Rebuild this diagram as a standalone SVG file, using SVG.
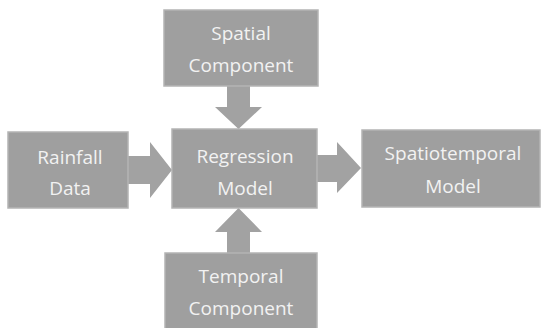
<svg xmlns="http://www.w3.org/2000/svg" width="542" height="328" viewBox="0 0 542 328">
<style>
.box{fill:#9f9f9f;stroke:#b4b4b4;stroke-width:1.5}
.arr{fill:#a2a2a2}
text{font-family:"Open Sans","Noto Sans",sans-serif;font-size:19px;fill:#f2f2f2;text-anchor:middle}
</style>
<rect width="542" height="328" fill="#ffffff"/>
<g id="connectors">
<polygon class="arr" points="227,86 250,86 250,107 262,107 238.5,129 215,107 227,107"/>
<polygon class="arr" points="128,156 150,156 150,142 172,170 150,198 150,184 128,184"/>
<polygon class="arr" points="317,155 337,155 337,142 361,168 337,193 337,182 317,182"/>
<polygon class="arr" points="227,253 250,253 250,232 262,232 238.5,208 215,232 227,232"/>
</g>
<g id="spatial">
<rect class="box" x="164" y="10" width="154" height="76"/>
<text x="241" y="40">Spatial</text>
<text x="241" y="72">Component</text>
</g>
<g id="rainfall">
<rect class="box" x="8" y="132" width="120" height="76"/>
<text x="70" y="164">Rainfall</text>
<text x="70" y="195">Data</text>
</g>
<g id="regression">
<rect class="box" x="172" y="129" width="145" height="79"/>
<text x="245" y="163">Regression</text>
<text x="245" y="195">Model</text>
</g>
<g id="spatiotemporal">
<rect class="box" x="362" y="130" width="178" height="77"/>
<text x="453" y="160">Spatiotemporal</text>
<text x="453" y="193">Model</text>
</g>
<g id="temporal">
<rect class="box" x="165" y="253" width="152" height="76"/>
<text x="241" y="283">Temporal</text>
<text x="241" y="315">Component</text>
</g>
</svg>
